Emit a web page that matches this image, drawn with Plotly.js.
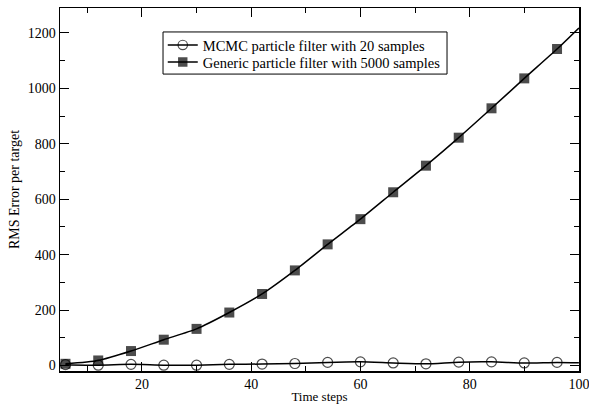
<!DOCTYPE html>
<html>
<head>
<meta charset="utf-8">
<script src="https://cdn.plot.ly/plotly-3.0.1.min.js"></script>
<style>html,body{margin:0;padding:0;background:#fff}#chart{width:589px;height:404px}</style>
</head>
<body>
<div id="chart"></div>
<script>
var timeSteps = [6, 12, 18, 24, 30, 36, 42, 48, 54, 60, 66, 72, 78, 84, 90, 96, 100];
var mcmcError = [3, 1, 4, 1, 1, 4, 5, 7, 11, 13, 9, 6, 12, 13, 9, 11, 10];
var genericError = [6, 18, 52, 93, 132, 191, 258, 343, 437, 528, 625, 721, 822, 928, 1036, 1142, 1218];
var seriesNames = ["MCMC particle filter with 20 samples", "Generic particle filter with 5000 samples"];

var FONT = 'Liberation Serif';
var sizes = timeSteps.map(function (t, i) { return i === timeSteps.length - 1 ? 0 : 10; });

var traces = [
  {
    x: timeSteps, y: mcmcError, name: seriesNames[0], type: 'scatter', mode: 'lines+markers',
    legend: 'legend',
    line: {color: '#000', width: 1.5, shape: 'spline', smoothing: 0.6},
    marker: {symbol: 'circle-open', size: sizes, color: '#000', line: {width: 1.2, color: '#000'}}
  },
  {
    x: timeSteps, y: genericError, name: seriesNames[1], type: 'scatter', mode: 'lines+markers',
    legend: 'legend2',
    line: {color: '#000', width: 1.5, shape: 'spline', smoothing: 0.6},
    marker: {symbol: 'square', size: sizes, color: '#000', line: {width: 0, color: '#000'}}
  }
];

var axisCommon = {
  showline: true, linecolor: '#000', linewidth: 1.5, mirror: 'ticks',
  ticks: 'inside', ticklen: 9, tickwidth: 1, tickcolor: '#000',
  showgrid: false, zeroline: false,
  tickfont: {family: FONT, size: 14, color: '#000'}
};

var legendCommon = {
  xanchor: 'left', yanchor: 'middle', x: 0.198,
  bgcolor: 'rgba(0,0,0,0)', borderwidth: 0,
  font: {family: FONT, size: 14.5, color: '#000'}
};

var layout = {
  width: 589, height: 404,
  margin: {l: 60, r: 10, t: 8, b: 33},
  paper_bgcolor: '#fff', plot_bgcolor: '#fff',
  showlegend: true,
  font: {family: FONT, color: '#000', size: 14},
  xaxis: Object.assign({}, axisCommon, {
    range: [5, 100.02], dtick: 20, tick0: 0, ticklabeloverflow: 'allow',
    minor: {ticks: 'inside', ticklen: 5, dtick: 10, tick0: 0, tickcolor: '#000', tickwidth: 1},
    title: {text: 'Time steps', font: {family: FONT, size: 13, color: '#000'}, standoff: 2}
  }),
  yaxis: Object.assign({}, axisCommon, {
    range: [-20, 1290], dtick: 200, tick0: 0,
    minor: {ticks: 'inside', ticklen: 5, dtick: 100, tick0: 0, tickcolor: '#000', tickwidth: 1},
    title: {text: 'RMS Error per target', font: {family: FONT, size: 14, color: '#000'}, standoff: 5}
  }),
  legend: Object.assign({}, legendCommon, {y: 0.898}),
  legend2: Object.assign({}, legendCommon, {y: 0.851}),
  shapes: [{
    type: 'rect', xref: 'paper', yref: 'paper', layer: 'below',
    x0: 0.1985, x1: 0.7457, y0: 0.818, y1: 0.934,
    line: {color: '#000', width: 1}, fillcolor: '#fff'
  }]
};

Plotly.newPlot('chart', traces, layout, {displayModeBar: false, staticPlot: true});
</script>
</body>
</html>
